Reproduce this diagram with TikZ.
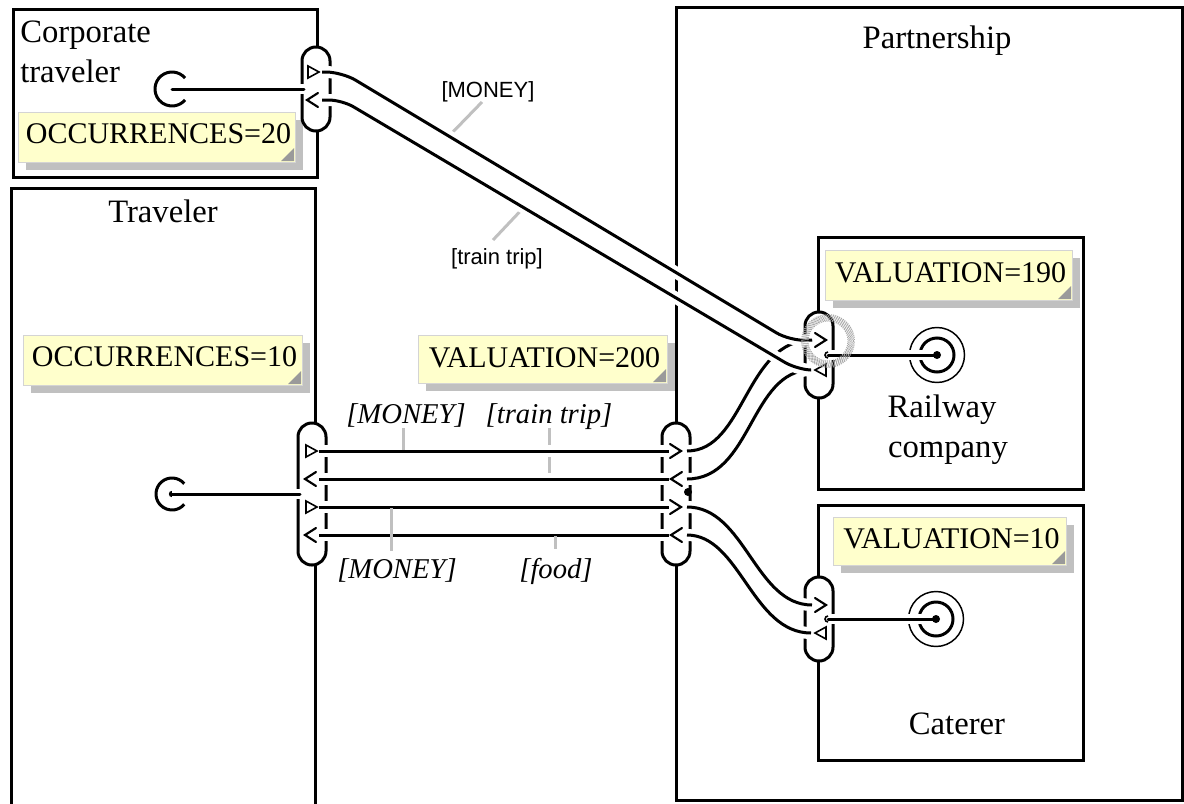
\documentclass[tikz,border=0pt]{standalone}
\usepackage{fontspec}
\setmainfont{Liberation Serif}
\newfontfamily\labelsans{Liberation Sans}
\usetikzlibrary{calc}

\definecolor{noteyellow}{HTML}{FFFFCC}
\definecolor{noteshadow}{HTML}{C0C0C0}
\definecolor{noteedge}{HTML}{D4D4D4}
\definecolor{foldgray}{HTML}{9A9A9A}
\definecolor{leadergray}{HTML}{C0C0C0}
\definecolor{stipple}{HTML}{A8A8A8}

\tikzset{
  actor/.style={draw, line width=2.25pt, fill=white, rectangle, inner sep=0pt, outer sep=0pt},
  port/.style={draw, line width=2.25pt, fill=white, rectangle, rounded corners=10.4pt,
    minimum width=21pt, inner sep=0pt, outer sep=0pt},
  exch/.style={line width=2.25pt, preaction={draw=white, line width=9pt}},
  stim/.style={line width=2.25pt, line cap=round,
    preaction={draw=white, line width=7pt, line cap=butt}},
  leader/.style={draw=leadergray, line width=2.25pt},
  barb/.style={line width=1.6pt, line cap=round, line join=miter},
  vport/.style={line width=1.2pt, fill=white, line join=miter},
  title/.style={font=\fontsize{24.5}{29}\selectfont, inner sep=0pt},
  notetext/.style={font=\fontsize{22.5}{27}\selectfont, inner sep=0pt},
  flowlbl/.style={font=\fontsize{21.5}{26}\selectfont\itshape, inner sep=0pt},
  sanslbl/.style={font=\fontsize{16.5}{20}\selectfont\labelsans, inner sep=0pt},
  stimring/.style={line width=2.25pt},
}

% value-port marks: open barbs and outlined triangles, given by their tip
\newcommand\chevR[1]{\draw[barb] (#1) ++(-11,-7) -- (#1) -- ++(-11,7);}
\newcommand\chevL[1]{\draw[barb] (#1) ++(11,-7) -- (#1) -- ++(11,7);}
\newcommand\triR[1]{\filldraw[vport] (#1) ++(-11,-6) -- (#1) -- ++(-11,6) -- cycle;}
\newcommand\triL[1]{\filldraw[vport] (#1) ++(11,-6) -- (#1) -- ++(11,6) -- cycle;}

% yellow annotation with drop shadow and folded corner
\newcommand\valnote[7]{%
  \fill[noteshadow] (#2+8,#3+8) rectangle (#4+8,#5+8);
  \node[draw=noteedge, fill=noteyellow, line width=0.75pt, anchor=north west,
    minimum width={(#4-#2)*0.75pt}, minimum height={(#5-#3)*0.75pt},
    inner sep=0pt, outer sep=0pt] (#1) at (#2,#3) {};
  \fill[foldgray] (#4-1,#5-14) -- (#4-1,#5-1) -- (#4-14,#5-1) -- cycle;
  \node[notetext, anchor=base] (#1-text) at ({(#2+#4)/2+2},#6) {#7};
}

\begin{document}
\begin{tikzpicture}[x=0.75pt,y=-0.75pt]
\useasboundingbox (0,0) rectangle (1184,803);

% actors
\node[actor, anchor=north west, minimum width={506*0.75pt}, minimum height={793*0.75pt}] (partnership) at (676,7) {};
\node[actor, anchor=north west, minimum width={304*0.75pt}, minimum height={168*0.75pt}] (corporate) at (13,9) {};
\node[actor, anchor=north west, minimum width={304*0.75pt}, minimum height={650*0.75pt}] (traveler) at (11,188) {};
\node[actor, anchor=north west, minimum width={265*0.75pt}, minimum height={252*0.75pt}] (railway) at (818,237) {};
\node[actor, anchor=north west, minimum width={265*0.75pt}, minimum height={255*0.75pt}] (caterer) at (818,505) {};

% annotations
\valnote{occ20}{18}{112}{295}{162}{143}{OCCURRENCES=20}
\valnote{occ10}{23}{335}{302}{385}{366}{OCCURRENCES=10}
\valnote{val200}{418}{335}{667}{383}{367}{VALUATION=200}
\valnote{val190}{825}{250}{1072}{300}{282}{VALUATION=190}
\valnote{val10}{833}{517}{1066}{565}{548}{VALUATION=10}

% labels of the value transfers
\node[sanslbl, anchor=base] (lblmoneyA) at (488,97) {[MONEY]};
\node[sanslbl, anchor=base] (lbltrainA) at (497,264) {[train trip]};
\node[flowlbl, anchor=base] (lblmoneyB) at (406,423) {[MONEY]};
\node[flowlbl, anchor=base] (lbltrainB) at (549,423) {[train trip]};
\node[flowlbl, anchor=base] (lblmoneyC) at (397,578) {[MONEY]};
\node[flowlbl, anchor=base] (lblfood) at (556,578) {[food]};

% leaders that pass under other transfers
\draw[leader] (482,102) -- (449,136);
\draw[leader] (493,240) -- (527,204);
\draw[leader] (549,428) -- (549,479);

% value interfaces
\node[port, minimum height={84*0.75pt}] (cport) at (316,89) {};
\node[port, minimum height={142*0.75pt}] (tport) at (312,494) {};
\node[port, minimum height={142*0.75pt}] (pport) at (676,494) {};
\node[port, minimum height={86*0.75pt}] (rport) at (819,355) {};
\node[port, minimum height={84*0.75pt}] (kport) at (819,619) {};

% attachment points of the transfers
\coordinate (c1) at ($(cport.center)+(6,-17)$);
\coordinate (c2) at ($(cport.center)+(6,11)$);
\coordinate (t1) at ($(tport.center)+(7,-43)$);
\coordinate (t2) at ($(tport.center)+(7,-15)$);
\coordinate (t3) at ($(tport.center)+(7,13)$);
\coordinate (t4) at ($(tport.center)+(7,41)$);
\coordinate (p1) at ($(pport.center)+(-7,-43)$);
\coordinate (p2) at ($(pport.center)+(-7,-15)$);
\coordinate (p3) at ($(pport.center)+(-7,13)$);
\coordinate (p4) at ($(pport.center)+(-7,41)$);
\coordinate (q1) at ($(pport.center)+(11,-43)$);
\coordinate (q2) at ($(pport.center)+(11,-15)$);
\coordinate (q3) at ($(pport.center)+(11,13)$);
\coordinate (q4) at ($(pport.center)+(11,41)$);
\coordinate (r1) at ($(rport.center)+(-7,-15)$);
\coordinate (r2) at ($(rport.center)+(-8,15)$);
\coordinate (k1) at ($(kport.center)+(-7,-14)$);
\coordinate (k2) at ($(kport.center)+(-8,14)$);

% partnership to its members
\draw[exch] (q1) .. controls (745,451) and (745,340) .. (r1);
\draw[exch] (q2) .. controls (752,479) and (750,370) .. (r2);
\draw[exch] (q3) .. controls (745,507) and (755,605) .. (k1);
\draw[exch] (q4) .. controls (740,535) and (752,633) .. (k2);

% traveler to partnership
\draw[exch] (t1) -- (p1);
\draw[exch] (t2) -- (p2);
\draw[exch] (t3) -- (p3);
\draw[exch] (t4) -- (p4);

% corporate traveler to railway company
\draw[exch, rounded corners=12pt] (c1) -- (342,72) -- (790,341) -- (r1);
\draw[exch, rounded corners=10pt] (c2) -- (342,100) -- (796,369) -- (r2);

% leaders that reach their own transfer
\draw[leader] (403,428) -- (403,450);
\draw[leader] (391,508) -- (391,551);
\draw[leader] (555,536) -- (555,549);

% value ports
\triR{319,72}  \chevL{307,100}
\triR{317,451} \chevL{305,479} \triR{317,507} \chevL{305,535}
\chevR{681,451} \chevL{671,479} \chevR{681,507} \chevL{671,535}
\chevR{826,340} \triL{815,370}
\chevR{826,605} \triL{815,633}
\fill ($(pport.center)+(12,-2)$) circle[radius=3pt];

% start stimuli
\node[circle, minimum size={34*0.75pt}, inner sep=0pt, outer sep=0pt] (cstart) at (172,89) {};
\node[circle, minimum size={32*0.75pt}, inner sep=0pt, outer sep=0pt] (tstart) at (172,494) {};
\draw[stimring] (cstart.40) arc[start angle=40, end angle=320, radius=12.75pt];
\draw[stimring] (tstart.40) arc[start angle=40, end angle=320, radius=12pt];
\fill (tstart.center) circle[radius=2.4pt];
\draw[stim] (cstart.center) -- ($(cstart.center -| cport.west)+(2,0)$);
\draw[stim] (tstart.center) -- ($(tstart.center -| tport.west)+(2,0)$);

% end stimuli
\node[circle, draw, line width=1.1pt, minimum size={55*0.75pt}, inner sep=0pt, outer sep=0pt] (rend) at (937,355) {};
\node[circle, draw, line width=1.1pt, minimum size={55*0.75pt}, inner sep=0pt, outer sep=0pt] (kend) at (936,619) {};
\draw[stimring] (rend.center) circle[radius=12.75pt];
\draw[stimring] (kend.center) circle[radius=12.75pt];
\draw[stim] ($(rport.center)+(9,0)$) -- (rend.center);
\draw[stim] ($(kport.center)+(9,0)$) -- (kend.center);
\fill (rend.center) circle[radius=3pt];
\fill (kend.center) circle[radius=3pt];
\draw[line width=1.2pt] ($(rport.center)+(9,-3)$) arc[start angle=90, end angle=270, radius=2.25pt];
\draw[line width=1.2pt] ($(kport.center)+(9,-3)$) arc[start angle=90, end angle=270, radius=2.25pt];

% actor names
\node[title, anchor=base west] (corpA) at (20,42) {Corporate};
\node[title, anchor=base west] (corpB) at (20,82) {traveler};
\node[title, anchor=base] (travname) at (163,222) {Traveler};
\node[title, anchor=base] (partname) at (937,48) {Partnership};
\node[title, anchor=base] (railA) at (942,417) {Railway};
\node[title, anchor=base] (railB) at (948,457) {company};
\node[title, anchor=base] (catname) at (957,734) {Caterer};

% stippled selection ring on the railway interface
\coordinate (sel) at (828,341);
\foreach \r [count=\i] in {15.0,15.8,16.6,17.4,18.2,19.0,19.8} {
  \pgfmathsetmacro\ph{mod(\i,2)*0.8}
  \draw[stipple, line width=0.8pt, dash pattern=on 0.8pt off 0.8pt, dash phase=\ph pt]
    (sel) circle[radius=\r pt];
}
\end{tikzpicture}
\end{document}
